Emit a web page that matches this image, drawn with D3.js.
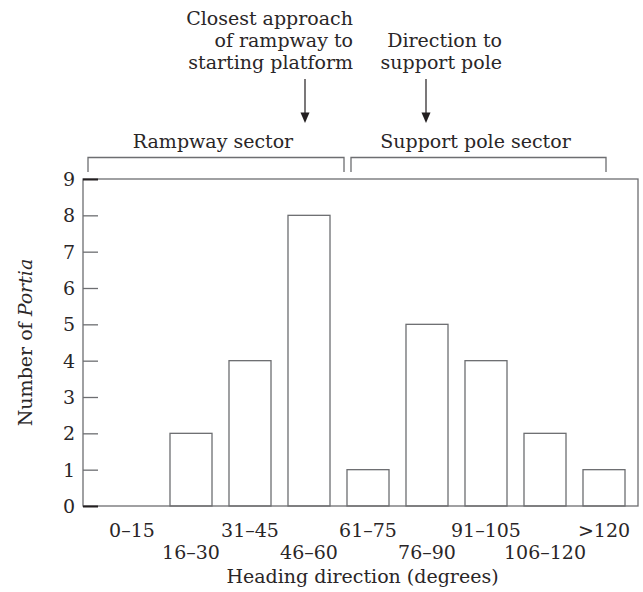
<!DOCTYPE html>
<html>
  <head>
    <meta charset="utf-8">
    <script src="https://d3js.org/d3.v7.min.js"></script>
    <style>
      body { margin: 0; background: #fff; }
      text { font-family: 'DejaVu Serif', serif; font-size: 19px; fill: #2a2627; }
    </style>
  </head>
  <body>
    <svg></svg>
    <script type="text/javascript">
      const categories = ['0\u201315', '16\u201330', '31\u201345', '46\u201360', '61\u201375',
                          '76\u201390', '91\u2013105', '106\u2013120', '>120']
      const counts = [0, 2, 4, 8, 1, 5, 4, 2, 1]
      const yTicks = [0, 1, 2, 3, 4, 5, 6, 7, 8, 9]
      const sectors = [
        {label: 'Rampway sector', from: '0\u201315', to: '46\u201360'},
        {label: 'Support pole sector', from: '61\u201375', to: '>120'}
      ]

      const width = 643
      const height = 592
      const lineColor = '#6d6e71'

      const svg = d3.select('svg')
        .attr('width', width)
        .attr('height', height)

      const frame = {left: 83, right: 638, top: 179, bottom: 506}

      const x = d3.scaleBand()
        .domain(categories)
        .range([102.5, 633.5])
        .paddingInner(0.288)
        .paddingOuter(0.144)

      const y = d3.scaleLinear()
        .domain([0, 9])
        .range([frame.bottom, frame.top])

      // frame
      svg.append('rect')
        .attr('x', frame.left)
        .attr('y', frame.top)
        .attr('width', frame.right - frame.left)
        .attr('height', frame.bottom - frame.top)
        .attr('fill', 'none')
        .attr('stroke', lineColor)
        .attr('stroke-width', 1.3)

      // bars
      svg.selectAll('.bar')
        .data(categories.map((c, i) => ({cat: c, value: counts[i]})).filter(d => d.value > 0))
        .enter()
        .append('rect')
          .attr('class', 'bar')
          .attr('x', d => x(d.cat))
          .attr('y', d => y(d.value))
          .attr('width', x.bandwidth())
          .attr('height', d => y(0) - y(d.value))
          .attr('fill', 'none')
          .attr('stroke', lineColor)
          .attr('stroke-width', 1.3)

      // y axis, ticks pointing inward
      const yAxis = svg.append('g')
        .attr('transform', `translate(${frame.left},0)`)
        .call(d3.axisRight(y).tickValues(yTicks).tickSize(15).tickFormat(''))
      yAxis.select('.domain').remove()
      yAxis.selectAll('line')
        .attr('stroke', d => (d === 0 || d === 9) ? '#231f20' : lineColor)
        .attr('stroke-width', d => (d === 0 || d === 9) ? 2 : 1.3)

      svg.selectAll('.ytick_label')
        .data(yTicks)
        .enter()
        .append('text')
          .attr('class', 'ytick_label')
          .attr('x', 75)
          .attr('y', d => y(d) + 7)
          .attr('text-anchor', 'end')
          .text(d => d)

      // x labels, staggered on two rows
      svg.selectAll('.xtick_label')
        .data(categories)
        .enter()
        .append('text')
          .attr('class', 'xtick_label')
          .attr('x', d => x(d) + x.bandwidth() / 2)
          .attr('y', (d, i) => i % 2 === 0 ? 537 : 559)
          .attr('text-anchor', 'middle')
          .text(d => d)

      svg.append('text')
        .attr('x', (frame.left + frame.right) / 2 + 2)
        .attr('y', 583)
        .attr('text-anchor', 'middle')
        .text('Heading direction (degrees)')

      const yTitle = svg.append('text')
        .attr('transform', `translate(32,${(frame.top + frame.bottom) / 2}) rotate(-90)`)
        .attr('text-anchor', 'middle')
      yTitle.append('tspan').text('Number of ')
      yTitle.append('tspan').attr('font-style', 'italic').text('Portia')

      // sector brackets
      const bx0 = d => d.from === categories[0] ? frame.left + 5 : x(d.from) + 4
      const bx1 = d => d.to === categories[categories.length - 1] ? x(d.to) + x.bandwidth() - 19 : x(d.to) + x.bandwidth() + 14

      const sectorG = svg.selectAll('.sector')
        .data(sectors)
        .enter()
        .append('g')
          .attr('class', 'sector')

      sectorG.append('path')
        .attr('d', d => `M${bx0(d)},172V157.5H${bx1(d)}V172`)
        .attr('fill', 'none')
        .attr('stroke', lineColor)
        .attr('stroke-width', 1.3)

      sectorG.append('text')
        .attr('x', d => (bx0(d) + bx1(d)) / 2 - 3)
        .attr('y', 148)
        .attr('text-anchor', 'middle')
        .text(d => d.label)

      // annotations with arrows
      const notes = [
        {lines: ['Closest approach', 'of rampway to', 'starting platform'], right: 353, top: 25, arrowX: 305},
        {lines: ['Direction to', 'support pole'], right: 502, top: 47, arrowX: 426}
      ]

      notes.forEach(n => {
        svg.append('g').selectAll('text')
          .data(n.lines)
          .enter()
          .append('text')
            .attr('x', n.right)
            .attr('y', (d, i) => n.top + i * 22)
            .attr('text-anchor', 'end')
            .text(d => d)

        svg.append('line')
          .attr('x1', n.arrowX).attr('x2', n.arrowX)
          .attr('y1', 79).attr('y2', 114)
          .attr('stroke', '#231f20')
          .attr('stroke-width', 1.2)

        svg.append('path')
          .attr('d', `M${n.arrowX - 4.5},112.5L${n.arrowX + 4.5},112.5L${n.arrowX},123Z`)
          .attr('fill', '#231f20')
      })
    </script>
  </body>
</html>
